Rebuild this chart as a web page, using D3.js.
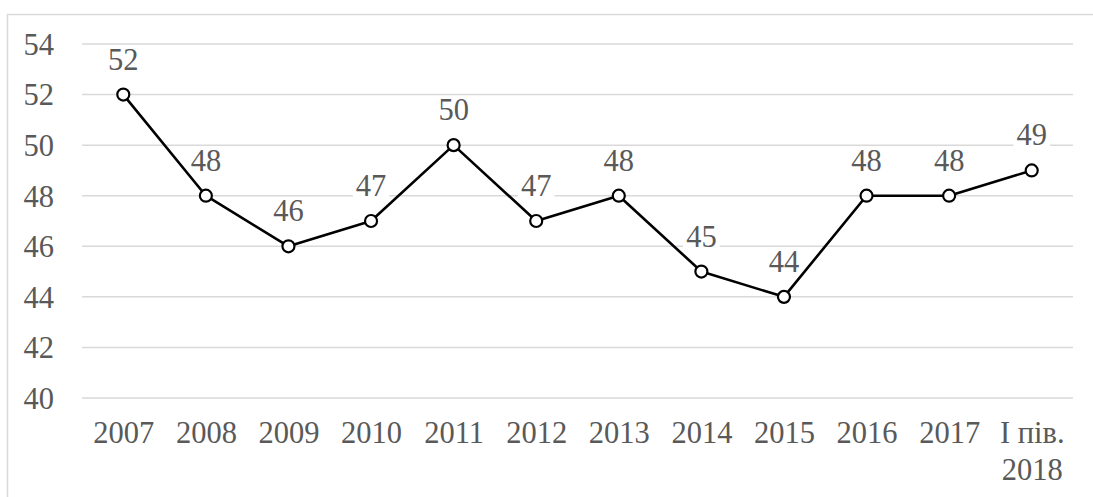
<!DOCTYPE html>
<html>
<head>
<meta charset="utf-8">
<script src="https://cdn.jsdelivr.net/npm/d3@7"></script>
<style>
  html, body { margin: 0; padding: 0; background: #fff; }
  svg { display: block; }
  text { font-family: "Liberation Serif", "Times New Roman", "DejaVu Serif", serif; }
</style>
</head>
<body>
<svg id="chart" width="1093" height="497"></svg>
<script>
// Categories (years; last one is the first half of 2018)
const categories = ["2007", "2008", "2009", "2010", "2011", "2012", "2013", "2014", "2015", "2016", "2017", "I пів.\n2018"];
// Series values
const values = [52, 48, 46, 47, 50, 47, 48, 45, 44, 48, 48, 49];
// Y-axis tick values
const yTicks = [40, 42, 44, 46, 48, 50, 52, 54];

const svg = d3.select("#chart");
const W = 1093, H = 497;
const plotLeft = 82, plotRight = 1073, plotTop = 44, plotBottom = 398;
const fontSize = 30.5;
const fontFamily = "'Liberation Serif', 'Times New Roman', 'DejaVu Serif', serif";
const textColor = "#595959";
const gridColor = "#d9d9d9";

// outer frame
svg.append("rect")
  .attr("x", 7.5).attr("y", 14.5)
  .attr("width", W + 20).attr("height", H + 20)
  .attr("fill", "#fff")
  .attr("stroke", gridColor)
  .attr("stroke-width", 1.5);

const x = d3.scalePoint().domain(categories).range([plotLeft, plotRight]).padding(0.5);
const y = d3.scaleLinear().domain([40, 54]).range([plotBottom, plotTop]);

// horizontal gridlines
svg.append("g").selectAll("line")
  .data(yTicks)
  .join("line")
  .attr("x1", plotLeft).attr("x2", plotRight)
  .attr("y1", d => y(d)).attr("y2", d => y(d))
  .attr("stroke", gridColor)
  .attr("stroke-width", 1.5);

// y axis labels
const yAxis = d3.axisLeft(y).tickValues(yTicks).tickSize(0).tickPadding(0);
const gy = svg.append("g").attr("transform", `translate(${plotLeft - 28},0)`).call(yAxis);
gy.select(".domain").remove();
gy.selectAll("text")
  .style("font-family", fontFamily)
  .style("font-size", fontSize + "px")
  .attr("fill", textColor)
  .attr("dy", "0.34em");

// x axis labels (multi-line)
const xAxis = d3.axisBottom(x).tickSize(0).tickPadding(0).tickFormat(() => "");
const gx = svg.append("g").attr("transform", `translate(0,${plotBottom})`).call(xAxis);
gx.select(".domain").remove();
gx.selectAll(".tick").each(function(d) {
  const t = d3.select(this).select("text")
    .style("font-family", fontFamily)
    .style("font-size", fontSize + "px")
    .attr("fill", textColor)
    .attr("text-anchor", "middle")
    .attr("y", 0).attr("dy", null);
  d.split("\n").forEach((line, i) => {
    t.append("tspan").attr("x", 0).attr("y", 45 + i * 37).text(line);
  });
});

const pts = categories.map((c, i) => ({ c, v: values[i] }));

// data labels: white boxes first, then line, then text on top
const boxLayer = svg.append("g");
const lineLayer = svg.append("g");
const textLayer = svg.append("g");

pts.forEach(d => {
  const t = textLayer.append("text")
    .attr("x", x(d.c))
    .attr("y", y(d.v) - 25)
    .attr("text-anchor", "middle")
    .style("font-family", fontFamily)
    .style("font-size", fontSize + "px")
    .attr("fill", textColor)
    .text(d.v);
  const b = t.node().getBBox();
  boxLayer.append("rect")
    .attr("x", b.x - 3).attr("y", b.y + 3)
    .attr("width", b.width + 6).attr("height", b.height - 4)
    .attr("fill", "#fff");
});

// series line
lineLayer.append("path")
  .datum(pts)
  .attr("fill", "none")
  .attr("stroke", "#000")
  .attr("stroke-width", 2.6)
  .attr("stroke-linejoin", "round")
  .attr("d", d3.line().x(d => x(d.c)).y(d => y(d.v)));

// markers
svg.append("g").selectAll("circle")
  .data(pts)
  .join("circle")
  .attr("cx", d => x(d.c))
  .attr("cy", d => y(d.v))
  .attr("r", 6)
  .attr("fill", "#fff")
  .attr("stroke", "#000")
  .attr("stroke-width", 2.2);
</script>
</body>
</html>
